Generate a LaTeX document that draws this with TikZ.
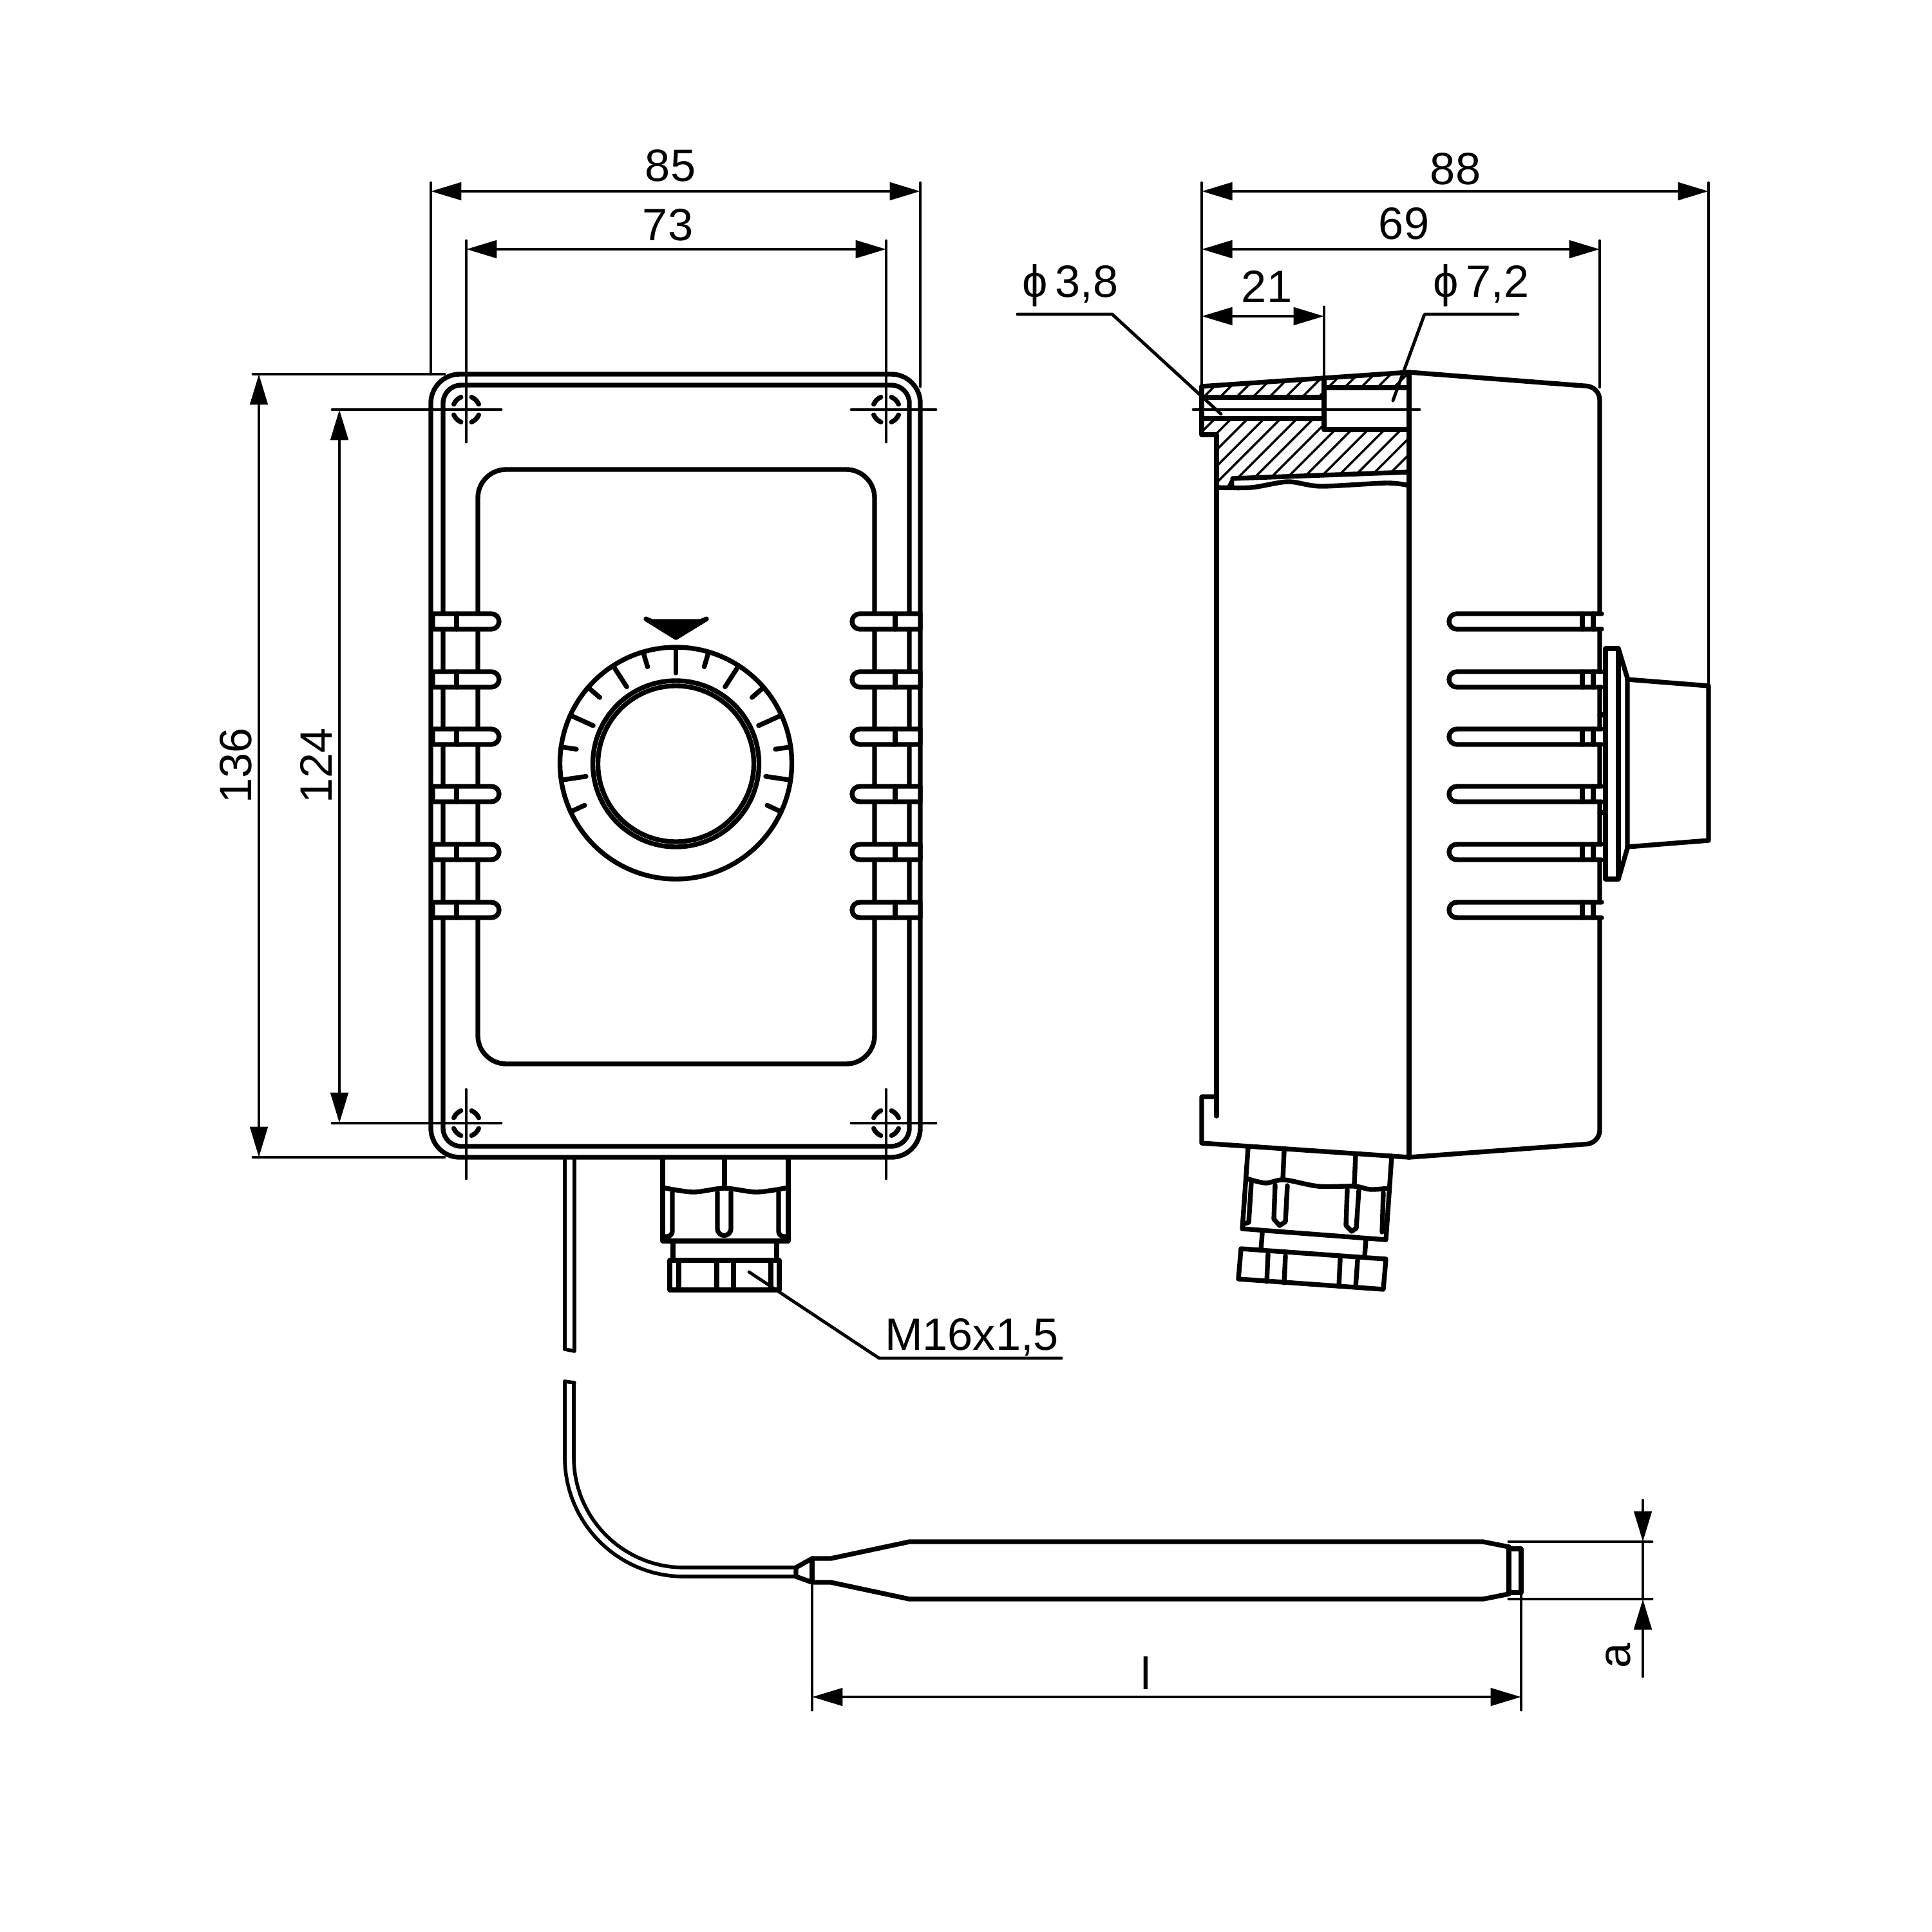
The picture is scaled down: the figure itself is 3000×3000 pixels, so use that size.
\documentclass[tikz,border=0pt]{standalone}
\usepackage{fontspec}
\setmainfont{Liberation Sans}
\usetikzlibrary{
  arrows.meta,
  calc,
  positioning
}
\tikzset{
  heavy/.style={line width=2.1pt,line cap=round,line join=round},
  fine/.style={line width=1.4pt,line cap=round,line join=round},
  wire/.style={line width=1.6pt,line cap=round,line join=round},
  hatchline/.style={line width=1pt},
  dimline/.style={fine,{Triangle[length=13.5pt,width=7.7pt]}-{Triangle[length=13.5pt,width=7.7pt]}},
  dimarrow/.style={fine,-{Triangle[length=13.5pt,width=7.7pt]}},
  dimtext/.style={font=\fontsize{20}{24}\selectfont,inner sep=0pt}
}
\begin{document}
\begin{tikzpicture}[x=0.01cm,y=-0.01cm]
      \useasboundingbox (0,0) rectangle (3000,3000);
      % front view
      \draw[heavy,rounded corners=0.45cm] (669,581) rectangle (1429,1797);
      \draw[heavy,rounded corners=0.28cm] (688,598) rectangle (1412,1780);
      \draw[heavy,rounded corners=0.44cm] (742,729) rectangle (1358,1652);
      \foreach \ysl in {965,1055,1144,1233,1323,1413} {
        \draw[heavy,fill=white] (672,{\ysl-12}) -- (763,{\ysl-12})
        arc[start angle=-90,end angle=90,radius=12] -- (672,{\ysl+12}) -- cycle;
        \draw[heavy] (709,{\ysl-12}) -- (709,{\ysl+12});
        \draw[heavy,fill=white] (1429,{\ysl-12}) -- (1335,{\ysl-12})
        arc[start angle=-90,end angle=-270,radius=12] -- (1429,{\ysl+12}) -- cycle;
        \draw[heavy] (1390,{\ysl-12}) -- (1390,{\ysl+12});
      }
      % fixing holes
      \foreach \hx/\hy in {724/636,1376/636,724/1744,1376/1744} {
        \foreach \ang in {45,135,225,315}
          \draw[heavy] ($(\hx,\hy)+(\ang-22:21)$) arc[start angle=\ang-22,end angle=\ang+22,radius=21];
      }
      % dial
      \draw[heavy] (1049.5,1185) circle (180);
      \draw[heavy] (1049.5,1186) circle (129);
      \draw[heavy] (1049.5,1186) circle (121);
      \draw[heavy] (1049.5,1005) -- (1049.5,1045);
      \foreach \tck/\rin in {16.4/156,32.8/141,49.2/156,65.6/141,82/156,98.4/141,114.8/156} {
        \draw[heavy] ($(1049.5,1185)+(-90+\tck:\rin)$) -- ($(1049.5,1185)+(-90+\tck:180)$);
        \draw[heavy] ($(1049.5,1185)+(-90-\tck:\rin)$) -- ($(1049.5,1185)+(-90-\tck:180)$);
      }
      \draw[heavy,fill=black] (1003,961) -- (1012,965) -- (1088,965) -- (1097,961) -- (1049.5,990) -- cycle;
      % cable gland, front
      \draw[heavy] (1029,1797) -- (1029,1927) -- (1224,1927) -- (1224,1797);
      \draw[heavy] (1125,1797) -- (1125,1845);
      \draw[heavy] plot[smooth] coordinates {(1029,1844) (1076,1851) (1125,1845) (1175,1851) (1224,1844)};
      \draw[heavy] (1044,1851) -- (1044,1912) arc[start angle=0,end angle=90,radius=8] -- (1031,1920);
      \draw[heavy] (1114,1851) -- (1114,1908) arc[start angle=180,end angle=0,radius=10.5] -- (1135,1851);
      \draw[heavy] (1209,1851) -- (1209,1912) arc[start angle=180,end angle=90,radius=8] -- (1222,1920);
      \draw[heavy] (1045,1927) -- (1045,1957);
      \draw[heavy] (1206,1927) -- (1206,1957);
      \draw[heavy] (1040,1957) rectangle (1210,2003);
      \foreach \nut in {1054,1113,1139,1197}
        \draw[heavy] (\nut,1957) -- (\nut,2003);
      % probe and capillary
      \draw[wire] (877,1797) -- (877,2095);
      \draw[wire] (892,1797) -- (892,2098) -- (877,2095);
      \draw[wire] (877,2145) -- (892,2147);
      \draw[wire] (877,2145) -- (877,2263) arc[start angle=180,end angle=90,radius=185] -- (1236,2448);
      \draw[wire] (891,2147) -- (891,2263) arc[start angle=180,end angle=90,radius=171] -- (1236,2434);
      \draw[heavy] (1236,2434) -- (1236,2448) -- (1261,2457) -- (1290,2457) -- (1412,2483) -- (2303,2483) -- (2343,2475);
      \draw[heavy] (1236,2434) -- (1261,2420) -- (1290,2420) -- (1412,2394) -- (2303,2394) -- (2343,2402);
      \draw[heavy] (1261,2420) -- (1261,2457);
      \draw[heavy] (2343,2402) -- (2343,2475);
      \draw[heavy] (2343,2405) -- (2362,2405) -- (2362,2473) -- (2343,2473);
      % side view
      \draw[heavy] (1866,600) -- (2188,578);
      \draw[heavy,rounded corners=0.2cm] (2188,578) -- (2484,601) -- (2484,1775) -- (2188,1797);
      \draw[heavy] (2188,1797) -- (1866,1775) -- (1866,1703) -- (1889,1703);
      \draw[heavy] (1866,600) -- (1866,675) -- (1889,675) -- (1889,1733);
      \draw[heavy] (2188,578) -- (2188,1797);
      \begin{scope}
        \clip (1868,600) -- (2188,578) -- (2188,602) -- (2056,602) -- (2056,617) -- (1868,617) -- cycle
        (1868,650) -- (2056,650) -- (2056,667) -- (2188,667) -- (2188,733) -- (1914,743) -- (1907,757) -- (1889,757) -- (1889,675) -- (1868,675) -- cycle;
        \foreach \hch in {0,...,26}
          \draw[hatchline] ({1660+25.5*\hch},800) -- ({1660+25.5*\hch+240},560);
      \end{scope}
      \draw[heavy] (1866,617) -- (2056,617);
      \draw[heavy] (1866,650) -- (2056,650);
      \draw[heavy] (2056,588) -- (2056,667) -- (2188,667);
      \draw[heavy] (2056,602) -- (2188,602);
      \draw[heavy] (1914,743) -- (2188,733);
      \draw[fine] (1907,757) -- (1914,743) -- (1914,757);
      \draw[heavy] plot[smooth] coordinates {(1889,757) (1943,757) (2000,748) (2051,755) (2153,750) (2188,754)};
      \foreach \ysl in {965,1055,1144,1233,1323,1413} {
        \fill[white] (2262,{\ysl-12}) rectangle (2489,{\ysl+12});
        \draw[heavy] (2487,{\ysl-12}) -- (2262,{\ysl-12})
        arc[start angle=-90,end angle=-270,radius=12] -- (2487,{\ysl+12});
        \draw[heavy] (2457,{\ysl-12}) -- (2457,{\ysl+12});
        \draw[heavy] (2474,{\ysl-12}) -- (2474,{\ysl+12});
      }
      % knob, side
      \draw[heavy] (2484,1110) -- (2493,1110);
      \draw[heavy] (2484,1262) -- (2493,1262);
      \draw[heavy] (2493,1007) rectangle (2513,1365);
      \draw[heavy] (2513,1007) -- (2527,1053) -- (2527,1317) -- (2513,1365);
      \draw[heavy] (2527,1055) -- (2653,1065) -- (2653,1305) -- (2527,1315);
      % cable gland, side
      \draw[heavy] (1938,1782) -- (1929,1908) -- (2152,1925) -- (2161,1795);
      \draw[heavy] (1994,1787) -- (1992,1830);
      \draw[heavy] (2105,1793) -- (2103,1838);
      \draw[heavy] plot[smooth] coordinates {(1936,1830) (1965,1837) (1994,1832) (2047,1842) (2103,1842) (2128,1847) (2157,1845)};
      \draw[heavy] (1943,1836) -- (1939,1898) -- (1933,1900);
      \draw[heavy] (1980,1840) -- (1978,1893) -- (1987,1903) -- (1996,1897) -- (1999,1841);
      \draw[heavy] (2092,1847) -- (2090,1903) -- (2099,1912) -- (2106,1907) -- (2110,1848);
      \draw[heavy] (2148,1852) -- (2146,1913);
      \draw[heavy] (1960,1915) -- (1958,1940);
      \draw[heavy] (2121,1925) -- (2119,1950);
      \draw[heavy] (1927,1939) -- (2152,1955) -- (2148,2002) -- (1923,1986) -- cycle;
      \draw[heavy] (1969,1947) -- (1967,1990);
      \draw[heavy] (1996,1950) -- (1994,1992);
      \draw[heavy] (2081,1955) -- (2079,1997);
      \draw[heavy] (2108,1957) -- (2105,1998);
      % extension and centre lines
      \draw[fine] (669,284) -- (669,581);
      \draw[fine] (1429,284) -- (1429,600);
      \draw[fine] (724,374) -- (724,686);
      \draw[fine] (1376,374) -- (1376,686);
      \draw[fine] (724,1692) -- (724,1830);
      \draw[fine] (1376,1692) -- (1376,1830);
      \draw[fine] (393,581) -- (690,581);
      \draw[fine] (393,1797) -- (690,1797);
      \draw[fine] (516,636) -- (778,636);
      \draw[fine] (1322,636) -- (1453,636);
      \draw[fine] (516,1744) -- (778,1744);
      \draw[fine] (1322,1744) -- (1453,1744);
      \draw[fine] (1866,284) -- (1866,600);
      \draw[fine] (2484,374) -- (2484,601);
      \draw[fine] (2653,284) -- (2653,1065);
      \draw[fine] (2056,477) -- (2056,588);
      \draw[fine] (1853,636) -- (2204,636);
      \draw[fine] (1261,2457) -- (1261,2655);
      \draw[fine] (2362,2473) -- (2362,2655);
      \draw[fine] (2343,2394) -- (2565,2394);
      \draw[fine] (2343,2483) -- (2565,2483);
      % dimensions
      \coordinate (wTopA) at (669,297);
      \coordinate (wTopB) at (1429,297);
      \coordinate (wHoleA) at (724,387);
      \coordinate (wHoleB) at (1376,387);
      \coordinate (hAllA) at (402,581);
      \coordinate (hAllB) at (402,1797);
      \coordinate (hHoleA) at (527,636);
      \coordinate (hHoleB) at (527,1744);
      \coordinate (dAllA) at (1866,297);
      \coordinate (dAllB) at (2653,297);
      \coordinate (dBodyA) at (1866,387);
      \coordinate (dBodyB) at (2484,387);
      \coordinate (dBoreA) at (1866,491);
      \coordinate (dBoreB) at (2056,491);
      \coordinate (lenA) at (1261,2635);
      \coordinate (lenB) at (2362,2635);
      \draw[dimline] (wTopA) -- (wTopB);
      \draw[dimline] (wHoleA) -- (wHoleB);
      \draw[dimline] (hAllA) -- (hAllB);
      \draw[dimline] (hHoleA) -- (hHoleB);
      \draw[dimline] (dAllA) -- (dAllB);
      \draw[dimline] (dBodyA) -- (dBodyB);
      \draw[dimline] (dBoreA) -- (dBoreB);
      \draw[dimline] (lenA) -- (lenB);
      \coordinate (dTubeA) at (2551,2330);
      \coordinate (dTubeB) at (2551,2394);
      \coordinate (dTubeC) at (2551,2483);
      \coordinate (dTubeD) at (2551,2603);
      \draw[dimarrow] (dTubeA) -- (dTubeB);
      \draw[fine] (dTubeB) -- (dTubeC);
      \draw[dimarrow] (dTubeD) -- (dTubeC);
      % labels
      \path (1041,257) node[dimtext] (lblWTop) {85};
      \path (1037,349) node[dimtext] (lblWHole) {73};
      \path (366,1189) node[dimtext,rotate=90] (lblHAll) {136};
      \path (491,1189) node[dimtext,rotate=90] (lblHHole) {124};
      \path (2260,262) node[dimtext] (lblDAll) {88};
      \path (2180,347) node[dimtext] (lblDBody) {69};
      \path (1967,445) node[dimtext] (lblDBore) {21};
      \path (1662,443) node[dimtext] (lblSmall) {ϕ\,3,8};
      \path (2300,443) node[dimtext] (lblLarge) {ϕ\,7,2};
      \path (1509,2076) node[dimtext] (lblThread) {M16x1,5};
      \path (1779,2598) node[dimtext] (lblLen) {l};
      \path (2513,2571) node[dimtext,rotate=90] (lblDia) {a};
      % leaders
      \coordinate (ldSmallA) at (1580,488);
      \coordinate (ldSmallB) at (1727,488);
      \coordinate (ldSmallC) at (1896,643);
      \draw[fine] (ldSmallA) -- (ldSmallB) -- (ldSmallC);
      \coordinate (ldLargeA) at (2357,488);
      \coordinate (ldLargeB) at (2212,488);
      \coordinate (ldLargeC) at (2163,622);
      \draw[fine] (ldLargeA) -- (ldLargeB) -- (ldLargeC);
      \coordinate (ldThreadA) at (1648,2109);
      \coordinate (ldThreadB) at (1365,2109);
      \coordinate (ldThreadC) at (1163,1975);
      \draw[fine] (ldThreadA) -- (ldThreadB) -- (ldThreadC);
    \end{tikzpicture}
\end{document}
